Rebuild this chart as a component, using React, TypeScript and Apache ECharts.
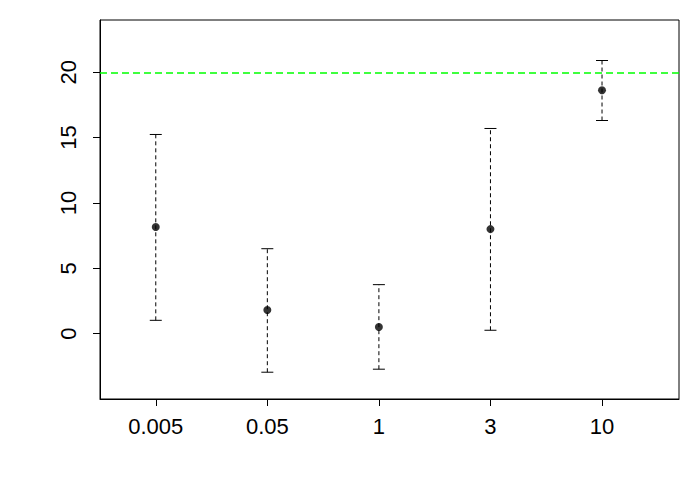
import React, { useEffect, useRef } from "react";
import * as echarts from "echarts";

const categories = ["0.005", "0.05", "1", "3", "10"];
const means = [8.16, 1.81, 0.51, 8.0, 18.63];
const upper = [15.24, 6.5, 3.75, 15.7, 20.9];
const lower = [1.02, -2.95, -2.72, 0.26, 16.31];
const yTicks = [0, 5, 10, 15, 20];
const refLine = 20;

export default function App() {
  const ref = useRef<HTMLDivElement>(null);
  useEffect(() => {
    if (!ref.current) return;
    const chart = echarts.init(ref.current, null, { renderer: "svg" });
    const positions = categories.map((_, i) => i + 1);
    const font = "Liberation Sans, Arial, sans-serif";
    chart.setOption({
      animation: false,
      backgroundColor: "#ffffff",
      grid: {
        left: 100,
        top: 20,
        right: 21,
        bottom: 101,
        show: true,
        borderColor: "#000",
        borderWidth: 1,
        backgroundColor: "transparent",
      },
      xAxis: {
        type: "value",
        min: 0.5,
        max: 5.69,
        splitLine: { show: false },
        axisLine: { show: true, onZero: false, lineStyle: { color: "#000", width: 1 } },
        axisTick: {
          show: true,
          inside: false,
          length: 7,
          lineStyle: { color: "#000", width: 1 },
          customValues: positions,
        },
        axisLabel: {
          show: true,
          color: "#000",
          fontSize: 22,
          fontFamily: font,
          margin: 16,
          customValues: positions,
          formatter: (v: number) => categories[Math.round(v) - 1] ?? "",
        },
      },
      yAxis: {
        type: "value",
        min: -5,
        max: 24,
        splitLine: { show: false },
        axisLine: { show: true, onZero: false, lineStyle: { color: "#000", width: 1 } },
        axisTick: {
          show: true,
          inside: false,
          length: 7,
          lineStyle: { color: "#000", width: 1 },
          customValues: yTicks,
        },
        axisLabel: {
          show: true,
          color: "#000",
          fontSize: 22,
          fontFamily: font,
          rotate: 90,
          margin: 21,
          customValues: yTicks,
          align: "center",
          verticalAlign: "bottom",
        },
      },
      series: [
        {
          type: "custom",
          data: positions.map((p, i) => [p, lower[i], upper[i]]),
          encode: { x: 0, y: [1, 2] },
          renderItem: (params: any, api: any) => {
            const x = api.value(0);
            const lo = api.coord([x, api.value(1)]);
            const hi = api.coord([x, api.value(2)]);
            const cap = 6;
            const stroke = { stroke: "#000", lineWidth: 1 };
            return {
              type: "group",
              children: [
                {
                  type: "line",
                  shape: { x1: lo[0], y1: lo[1], x2: hi[0], y2: hi[1] },
                  style: { ...stroke, lineDash: [4, 3] },
                },
                {
                  type: "line",
                  shape: { x1: hi[0] - cap, y1: hi[1], x2: hi[0] + cap, y2: hi[1] },
                  style: stroke,
                },
                {
                  type: "line",
                  shape: { x1: lo[0] - cap, y1: lo[1], x2: lo[0] + cap, y2: lo[1] },
                  style: stroke,
                },
              ],
            };
          },
          z: 2,
        },
        {
          type: "scatter",
          data: positions.map((p, i) => [p, means[i]]),
          symbol: "circle",
          symbolSize: 8,
          itemStyle: { color: "#000" },
          z: 3,
          markLine: {
            silent: true,
            symbol: ["none", "none"],
            label: { show: false },
            lineStyle: { color: "#00ff00", type: [7, 4], width: 1.5 },
            data: [{ yAxis: refLine }],
          },
        },
      ],
    });
    return () => chart.dispose();
  }, []);
  return <div ref={ref} style={{ width: 700, height: 500, position: "absolute", left: 0, top: 0 }} />;
}
